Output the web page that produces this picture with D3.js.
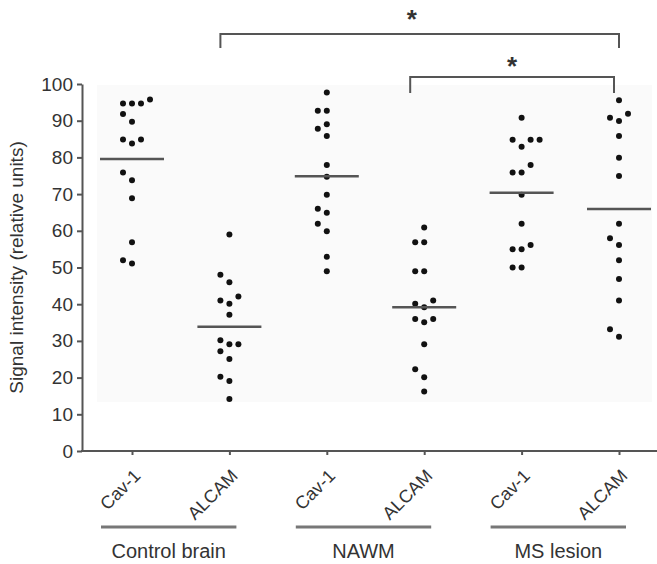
<!DOCTYPE html>
<html>
<head>
<meta charset="utf-8">
<script src="https://cdn.jsdelivr.net/npm/d3@7"></script>
<style>
    body { margin: 0; background: #fff; }
    svg { display: block; font-family: "Liberation Sans", Arial, sans-serif; }
</style>
</head>
<body>
<svg width="657" height="564"></svg>
<script>
// groups and markers along the x axis
const groups = ['Control brain', 'NAWM', 'MS lesion'];
const markers = ['Cav-1', 'ALCAM'];

// signal intensity per sample (relative units)
const controlCav1 = [95.8, 94.7, 94.7, 94.7, 91.8, 89.7, 84.9, 84.9, 83.8, 75.9, 73.8, 68.9, 56.9, 52.0, 51.1];
const controlAlcam = [59.0, 48.0, 46.0, 42.1, 41.0, 40.1, 37.1, 30.2, 29.1, 29.1, 27.2, 25.1, 20.2, 19.1, 14.2];
const nawmCav1 = [97.7, 92.7, 92.7, 89.0, 87.8, 85.8, 77.9, 74.7, 69.8, 66.0, 64.9, 61.9, 59.9, 52.9, 49.0];
const nawmAlcam = [60.9, 56.9, 56.9, 49.0, 49.0, 41.0, 40.1, 39.2, 36.0, 36.0, 35.1, 29.1, 22.3, 20.1, 16.2];
const msCav1 = [90.8, 84.8, 84.8, 84.8, 82.9, 77.9, 75.9, 75.9, 69.8, 61.9, 56.1, 55.0, 55.0, 50.0, 50.0];
const msAlcam = [95.6, 91.9, 90.8, 89.9, 85.8, 79.9, 74.9, 61.9, 58.0, 56.1, 52.0, 46.9, 41.0, 33.2, 31.1];

const yTicks = [0, 10, 20, 30, 40, 50, 60, 70, 80, 90, 100];

// significance brackets (column index from / to)
const comparisons = [
    { from: 1, to: 5, label: '*' },
    { from: 3, to: 5, label: '*' }
];

const series = [controlCav1, controlAlcam, nawmCav1, nawmAlcam, msCav1, msAlcam];
const columns = d3.range(series.length);

const svg = d3.select('svg');
const textColor = '#333';
const lineColor = '#555';
const axisX = 82;
const axisY = 451;

const yScale = d3.scaleLinear()
    .domain([0, 100])
    .range([axisY, 84]);

const xScale = d3.scalePoint()
    .domain(columns)
    .range([132, 619]);

// faint panel behind the dots (scan tone)
svg.append('rect')
    .attr('x', 97)
    .attr('y', 85)
    .attr('width', 555)
    .attr('height', 317)
    .attr('fill', '#fafafa');

// y axis
const yAxis = svg.append('g')
    .attr('transform', `translate(${axisX}, 0)`)
    .call(d3.axisLeft(yScale)
        .tickValues(yTicks)
        .tickSize(5)
        .tickSizeOuter(0)
        .tickPadding(4));

yAxis.selectAll('path, line')
    .attr('stroke', lineColor)
    .attr('stroke-width', 2);
yAxis.selectAll('text')
    .attr('fill', textColor)
    .attr('font-size', 19);

// x axis
const xAxis = svg.append('g')
    .attr('transform', `translate(0, ${axisY})`)
    .call(d3.axisBottom(xScale)
        .tickSize(4)
        .tickSizeOuter(0)
        .tickFormat((i) => markers[i % 2]));

xAxis.select('.domain').remove();
xAxis.selectAll('line')
    .attr('stroke', lineColor)
    .attr('stroke-width', 2);
xAxis.selectAll('text')
    .attr('fill', textColor)
    .attr('font-size', 18)
    .attr('y', 0)
    .attr('dy', null)
    .attr('text-anchor', 'end')
    .attr('transform', 'translate(9, 26) rotate(-45)');

svg.append('line')
    .attr('x1', axisX - 1)
    .attr('x2', 657)
    .attr('y1', axisY)
    .attr('y2', axisY)
    .attr('stroke', lineColor)
    .attr('stroke-width', 2);

// y axis title
svg.append('text')
    .attr('transform', `translate(23, ${yScale(50)}) rotate(-90)`)
    .attr('text-anchor', 'middle')
    .attr('fill', textColor)
    .attr('font-size', 19)
    .text('Signal intensity (relative units)');

// simple dot-plot layout: spread values that overlap sideways
const colWidth = 9;
const minGap = 9;
function swarm(values, cx) {
    const placed = [];
    const order = [0, -1, 1, 2, -2, 3, -3];
    values.slice().sort((a, b) => a - b).forEach((v) => {
        const cy = yScale(v);
        const slot = order.find((k) => !placed.some((p) => p.k === k && Math.abs(p.cy - cy) < minGap));
        placed.push({ k: slot, cy: cy, cx: cx + slot * colWidth, v: v });
    });
    return placed;
}

series.forEach((values, i) => {
    const cx = xScale(i);
    svg.append('g')
        .selectAll('circle')
        .data(swarm(values, cx))
        .enter()
        .append('circle')
        .attr('cx', (d) => d.cx)
        .attr('cy', (d) => d.cy)
        .attr('r', 3)
        .attr('fill', '#111');

    const m = d3.mean(values);
    svg.append('line')
        .attr('x1', cx - 32)
        .attr('x2', cx + 32)
        .attr('y1', yScale(m))
        .attr('y2', yScale(m))
        .attr('stroke', lineColor)
        .attr('stroke-width', 2.5);
});

// group labels with underline
groups.forEach((g, gi) => {
    const x0 = xScale(gi * 2) - 31;
    const x1 = xScale(gi * 2 + 1) + 7;
    svg.append('line')
        .attr('x1', x0)
        .attr('x2', x1)
        .attr('y1', 527)
        .attr('y2', 527)
        .attr('stroke', '#777')
        .attr('stroke-width', 3);
    svg.append('text')
        .attr('x', (x0 + x1) / 2)
        .attr('y', 558)
        .attr('text-anchor', 'middle')
        .attr('fill', textColor)
        .attr('font-size', 20)
        .text(g);
});

// significance brackets
const bracketRows = [
    { top: 34, drop: 14, dl: -9, dr: 0, starY: 28, starDx: -8 },
    { top: 77, drop: 16, dl: -14, dr: -5, starY: 75, starDx: 0 }
];
comparisons.forEach((c, i) => {
    const b = bracketRows[i];
    const xl = xScale(c.from) + b.dl;
    const xr = xScale(c.to) + b.dr;
    svg.append('path')
        .attr('d', `M${xl},${b.top + b.drop}V${b.top}H${xr}V${b.top + b.drop}`)
        .attr('fill', 'none')
        .attr('stroke', lineColor)
        .attr('stroke-width', 2);
    svg.append('text')
        .attr('x', (xl + xr) / 2 + b.starDx)
        .attr('y', b.starY)
        .attr('text-anchor', 'middle')
        .attr('fill', textColor)
        .attr('font-size', 26)
        .attr('font-weight', 'bold')
        .text(c.label);
});
</script>
</body>
</html>
